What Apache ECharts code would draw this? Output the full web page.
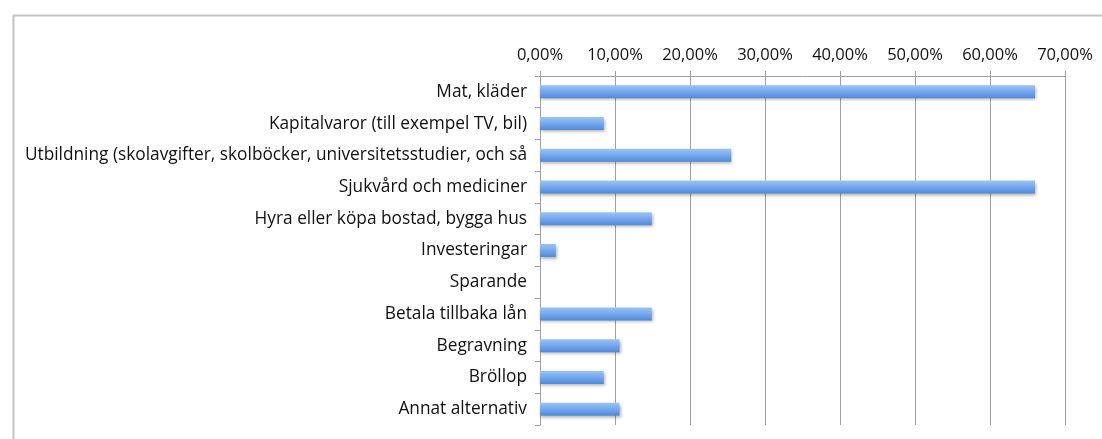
<!DOCTYPE html>
<html>
<head>
<meta charset="utf-8">
<script src="https://cdn.jsdelivr.net/npm/echarts@6/dist/echarts.min.js"></script>
<style>
html,body{margin:0;padding:0;background:#fff;}
#chart{width:1102px;height:439px;}
</style>
</head>
<body>
<div id="chart"></div>
<script>
const categories = [
  "Mat, kläder",
  "Kapitalvaror (till exempel TV, bil)",
  "Utbildning (skolavgifter, skolböcker, universitetsstudier, och så",
  "Sjukvård och mediciner",
  "Hyra eller köpa bostad, bygga hus",
  "Investeringar",
  "Sparande",
  "Betala tillbaka lån",
  "Begravning",
  "Bröllop",
  "Annat alternativ"
];
const shares = [66.0, 8.5, 25.5, 66.0, 14.9, 2.1, 0, 14.9, 10.6, 8.5, 10.6];
const axisMin = 0, axisMax = 70, axisStep = 10;

const chart = echarts.init(document.getElementById('chart'), null, {renderer: 'canvas'});
const font = '"Open Sans", Lato, sans-serif';
chart.setOption({
  animation: false,
  graphic: [{
    type: 'rect', left: 11, top: 13,
    shape: {width: 1200, height: 600},
    style: {fill: 'none', stroke: '#c4c4c4', lineWidth: 2}
  }],
  grid: {left: 540, right: 37, top: 76, bottom: 14},
  xAxis: {
    type: 'value', position: 'top', min: axisMin, max: axisMax, interval: axisStep,
    axisLine: {show: true, lineStyle: {color: '#a0a0a0', width: 1}},
    axisTick: {show: true, length: 5, lineStyle: {color: '#a0a0a0'}},
    splitLine: {show: true, lineStyle: {color: '#a0a0a0', width: 1}},
    axisLabel: {
      margin: 12, color: '#111', fontSize: 16.5, fontFamily: font,
      formatter: v => v.toFixed(2).replace('.', ',') + '%'
    }
  },
  yAxis: {
    type: 'category', data: categories, inverse: true,
    axisLine: {show: true, lineStyle: {color: '#a0a0a0'}},
    axisTick: {show: true, length: 5, lineStyle: {color: '#a0a0a0'}},
    axisLabel: {margin: 13, color: '#111', fontSize: 17.3, fontFamily: font}
  },
  series: [{
    type: 'bar', data: shares, barWidth: 13,
    itemStyle: {
      color: new echarts.graphic.LinearGradient(0, 0, 0, 1, [
        {offset: 0, color: '#9cc3f5'},
        {offset: 0.5, color: '#74a7ec'},
        {offset: 1, color: '#4f8ada'}
      ]),
      shadowColor: 'rgba(0,0,0,0.3)', shadowBlur: 3, shadowOffsetY: 2, shadowOffsetX: 1
    }
  }]
});
</script>
</body>
</html>
